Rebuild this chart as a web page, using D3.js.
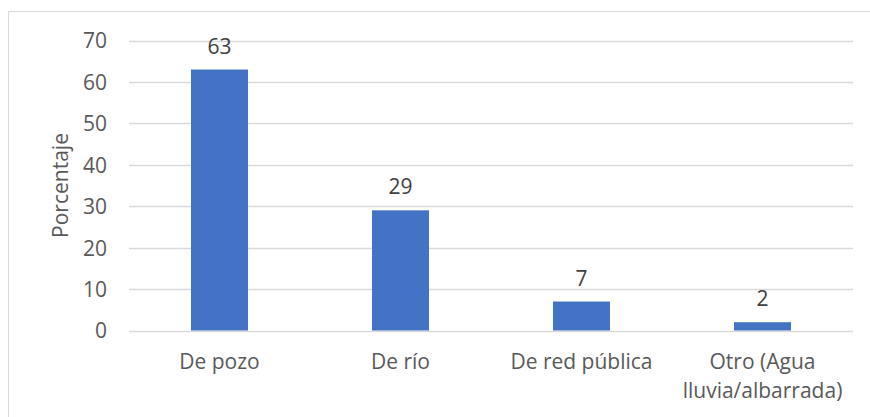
<!DOCTYPE html>
<html><head><meta charset="utf-8">
<script src="https://cdn.jsdelivr.net/npm/d3@7"></script>
<style>body{margin:0;background:#fff;} svg{display:block;} svg text{font-family:"Open Sans",sans-serif;}</style>
</head><body><svg id="c" width="870" height="417"></svg>
<script>
const categories = ["De pozo", "De río", "De red pública", "Otro (Agua lluvia/albarrada)"];
const categoryLines = [["De pozo"], ["De río"], ["De red pública"], ["Otro (Agua", "lluvia/albarrada)"]];
const values = [63, 29, 7, 2];
const yTicks = [0, 10, 20, 30, 40, 50, 60, 70];
const yTitle = "Porcentaje";

const svg = d3.select("#c");
const m = {left: 129, right: 853, top: 40.5, bottom: 330.5};
const fs = "21px";

svg.append("rect").attr("x", 8.5).attr("y", 11.5).attr("width", 900).attr("height", 500)
  .attr("fill", "none").attr("stroke", "#d9d9d9");

const x = d3.scaleBand().domain(categories).range([m.left, m.right]).paddingInner(0.685).paddingOuter(0.3425);
const y = d3.scaleLinear().domain([0, 70]).range([m.bottom, m.top]);

svg.append("g").selectAll("line").data(yTicks).join("line")
  .attr("x1", m.left).attr("x2", m.right)
  .attr("y1", d => Math.round(y(d)) + 0.5).attr("y2", d => Math.round(y(d)) + 0.5)
  .attr("stroke", "#d9d9d9").attr("stroke-width", 1.3);

const yAxis = svg.append("g").attr("transform", `translate(${m.left},0)`)
  .call(d3.axisLeft(y).tickValues(yTicks).tickSize(0).tickPadding(22));
yAxis.select(".domain").remove();
yAxis.attr("font-family", null).attr("font-size", null);
yAxis.selectAll("text").attr("fill", "#595959").style("font-size", fs).attr("dy", "0.35em");

svg.append("g").selectAll("rect").data(values).join("rect")
  .attr("x", (d, i) => x(categories[i])).attr("width", x.bandwidth())
  .attr("y", d => y(d)).attr("height", d => y(0) - y(d))
  .attr("fill", "#4472C4");

svg.append("g").selectAll("text").data(values).join("text")
  .attr("x", (d, i) => x(categories[i]) + x.bandwidth() / 2)
  .attr("y", d => y(d) - 16)
  .attr("text-anchor", "middle").attr("fill", "#404040").style("font-size", fs)
  .text(d => d);

const xl = svg.append("g").selectAll("text").data(categories).join("text")
  .attr("x", d => x(d) + x.bandwidth() / 2)
  .attr("y", 369)
  .attr("text-anchor", "middle").attr("fill", "#595959").style("font-size", fs);
xl.each(function(d, i) {
  const t = d3.select(this);
  categoryLines[i].forEach((ln, j) => {
    t.append("tspan").attr("x", x(d) + x.bandwidth() / 2).attr("dy", j === 0 ? 0 : 29).text(ln);
  });
});

svg.append("text").attr("transform", `translate(68,${(m.top + m.bottom) / 2}) rotate(-90)`)
  .attr("text-anchor", "middle").attr("fill", "#595959").style("font-size", fs).text(yTitle);
</script></body></html>
